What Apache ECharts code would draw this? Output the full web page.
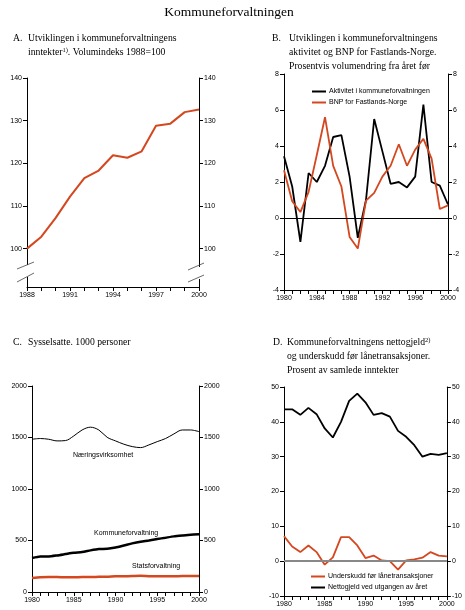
<!DOCTYPE html>
<html><head><meta charset="utf-8">
<script src="https://cdn.jsdelivr.net/npm/echarts@6/dist/echarts.min.js"></script>
<style>html,body{margin:0;padding:0;background:#fff}#c{width:465px;height:610px}</style>
</head><body><div id="c"></div>
<script>
// ---- data ----
const yearsA = ['1988','1989','1990','1991','1992','1993','1994','1995','1996','1997','1998','1999','2000'];
const incomeIndex = [100,102.8,107.2,112.2,116.5,118.3,121.9,121.3,122.8,128.8,129.3,132.0,132.6];

const years = ['1980','1981','1982','1983','1984','1985','1986','1987','1988','1989','1990','1991','1992','1993','1994','1995','1996','1997','1998','1999','2000'];
const activity = [3.43,1.75,-1.33,2.5,2.0,2.9,4.5,4.6,2.3,-1.1,1.0,5.5,3.7,1.9,2.0,1.7,2.3,6.3,2.0,1.8,0.75];
const gdpMainland = [2.65,0.93,0.33,1.45,3.5,5.6,2.9,1.75,-1.05,-1.7,0.96,1.4,2.3,2.9,4.1,2.9,3.8,4.4,3.3,0.5,0.7];

const business = [1483,1490,1483,1467,1470,1515,1573,1600,1573,1502,1467,1435,1412,1402,1428,1460,1490,1535,1573,1573,1557];
const municipal = [330,345,345,355,368,381,388,404,417,420,433,452,472,488,500,514,527,540,549,557,560];
const state = [135,143,145,145,143,143,145,145,147,148,152,153,155,157,153,152,153,153,155,155,155];

const netDebt = [43.6,43.6,42.0,44.0,42.2,38.1,35.5,40.0,46.0,48.1,45.6,42.0,42.5,41.5,37.4,35.7,33.3,30.0,30.8,30.5,31.0];
const deficit = [7.2,4.2,2.6,4.5,2.6,-1.0,1.1,6.9,6.9,4.5,0.9,1.6,0.2,0.0,-2.4,0.2,0.5,1.0,2.6,1.6,1.4];

const ticksA = [100,110,120,130,140];
const ticksB = [-4,-2,0,2,4,6,8];
const ticksC = [0,500,1000,1500,2000];
const ticksD = [-10,0,10,20,30,40,50];

// ---- style ----
const RED = '#d4471f';
const SANS = '"Liberation Sans", Arial, sans-serif';
const SERIF = '"Liberation Serif", "Times New Roman", serif';
const TS = 9.7;

function yAx(gridIndex, min, max, ticks, position) {
  return {
    type: 'value', gridIndex, min, max, position,
    axisLine: {show: true, onZero: false, lineStyle: {color: '#000', width: 1}},
    axisTick: {show: true, length: 4, customValues: ticks, lineStyle: {color: '#000', width: 1}},
    axisLabel: {fontSize: 7, color: '#000', margin: 5, fontFamily: SANS, customValues: ticks,
      formatter: v => String(v)},
    splitLine: {show: false}
  };
}
function xAx(gridIndex, data, labelInterval) {
  return {
    type: 'category', gridIndex, data, boundaryGap: false,
    axisLine: {show: true, onZero: false, lineStyle: {color: '#000', width: 1}},
    axisTick: {show: true, interval: 0, length: 4, lineStyle: {color: '#000', width: 1}},
    axisLabel: {interval: labelInterval, fontSize: 7, color: '#000', margin: 5, fontFamily: SANS,
      showMinLabel: true, showMaxLabel: true},
    splitLine: {show: false}
  };
}
function line(name, xi, yi, data, color, width, smooth) {
  return {type: 'line', name, xAxisIndex: xi, yAxisIndex: yi, data, symbol: 'none',
    smooth: smooth || false, lineStyle: {color, width}, itemStyle: {color}, z: 3};
}
function txt(x, y, text, size, font, extra) {
  return {type: 'text', x, y, z: 100, style: Object.assign({text, fontSize: size, fontFamily: font, fill: '#000', textVerticalAlign: 'middle'}, extra || {})};
}
function seg(x1, y1, x2, y2) {
  return {type: 'line', z: 100, shape: {x1, y1, x2, y2}, style: {stroke: '#444', lineWidth: 0.8}};
}
function supText(x, y, main, sup, after) {
  return {type: 'text', x, y, z: 100, style: {
    text: '{n|' + main + '}{s|' + sup + '}' + (after ? '{n|' + after + '}' : ''), textVerticalAlign: 'middle',
    rich: {n: {fontSize: TS, fontFamily: SERIF, fill: '#000', verticalAlign: 'bottom'},
           s: {fontSize: 6.5, fontFamily: SERIF, fill: '#000', verticalAlign: 'top'}}}};
}

const chart = echarts.init(document.getElementById('c'), null, {renderer: 'canvas'});
chart.setOption({
  animation: false,
  backgroundColor: '#fff',
  grid: [
    {left: 27, top: 78, width: 172, height: 209},
    {left: 284, top: 74, width: 164, height: 216},
    {left: 32, top: 386, width: 167, height: 206},
    {left: 284, top: 387, width: 164, height: 209}
  ],
  xAxis: [xAx(0, yearsA, 2), xAx(1, years, 3), xAx(2, years, 4), xAx(3, years, 4)],
  yAxis: [
    yAx(0, 91, 140, ticksA, 'left'), yAx(0, 91, 140, ticksA, 'right'),
    yAx(1, -4, 8, ticksB, 'left'), yAx(1, -4, 8, ticksB, 'right'),
    yAx(2, 0, 2000, ticksC, 'left'), yAx(2, 0, 2000, ticksC, 'right'),
    yAx(3, -10, 50, ticksD, 'left'), yAx(3, -10, 50, ticksD, 'right')
  ],
  legend: [
    {data: ['Aktivitet i kommuneforvaltningen', 'BNP for Fastlands-Norge'], orient: 'vertical',
      left: 307, top: 83, itemWidth: 14, itemHeight: 2, itemGap: 4, icon: 'rect',
      textStyle: {fontSize: 7, fontFamily: SANS, color: '#000', padding: [0,0,0,-2]}},
    {data: ['Underskudd før lånetransaksjoner', 'Nettogjeld ved utgangen av året'], orient: 'vertical',
      left: 306, top: 568, itemWidth: 14, itemHeight: 2, itemGap: 4, icon: 'rect',
      textStyle: {fontSize: 7, fontFamily: SANS, color: '#000', padding: [0,0,0,-2]}}
  ],
  series: [
    line('Inntekter', 0, 0, incomeIndex, RED, 2),
    Object.assign(line('Aktivitet i kommuneforvaltningen', 1, 2, activity, '#000', 1.8), {
      markLine: {silent: true, symbol: 'none', label: {show: false},
        lineStyle: {color: '#000', width: 1, type: 'solid'}, data: [{yAxis: 0}]}
    }),
    line('BNP for Fastlands-Norge', 1, 2, gdpMainland, RED, 1.8),
    line('Næringsvirksomhet', 2, 4, business, '#000', 1, 0.35),
    line('Kommuneforvaltning', 2, 4, municipal, '#000', 2.5, 0.2),
    line('Statsforvaltning', 2, 4, state, RED, 2.5, 0.2),
    Object.assign(line('Underskudd før lånetransaksjoner', 3, 6, deficit, RED, 1.8), {
      markLine: {silent: true, symbol: 'none', label: {show: false},
        lineStyle: {color: '#888', width: 2, type: 'solid'}, data: [{yAxis: 0}]}
    }),
    line('Nettogjeld ved utgangen av året', 3, 6, netDebt, '#000', 1.8)
  ],
  graphic: [
    txt(229, 12, 'Kommuneforvaltningen', 13.5, SERIF, {textAlign: 'center'}),
    // panel A
    txt(13, 38, 'A.', TS, SERIF),
    txt(28, 38, 'Utviklingen i kommuneforvaltningens', TS, SERIF),
    supText(28, 52, 'inntekter', '1)', '. Volumindeks 1988=100'),
    // panel B
    txt(272, 38, 'B.', TS, SERIF),
    txt(289, 38, 'Utviklingen i kommuneforvaltningens', TS, SERIF),
    txt(289, 52, 'aktivitet og BNP for Fastlands-Norge.', TS, SERIF),
    txt(289, 66, 'Prosentvis volumendring fra året før', TS, SERIF),
    // panel C
    txt(13, 342, 'C.', TS, SERIF),
    txt(28, 342, 'Sysselsatte. 1000 personer', TS, SERIF),
    txt(73, 455, 'Næringsvirksomhet', 7, SANS),
    txt(94, 533, 'Kommuneforvaltning', 7, SANS),
    txt(132, 566, 'Statsforvaltning', 7, SANS),
    // panel D
    txt(273, 342, 'D.', TS, SERIF),
    supText(287, 342, 'Kommuneforvaltningens nettogjeld', '2)'),
    txt(287, 356, 'og underskudd før lånetransaksjoner.', TS, SERIF),
    txt(287, 370, 'Prosent av samlede inntekter', TS, SERIF),
    // axis breaks in panel A
    {type: 'rect', z: 99, shape: {x: 24, y: 265, width: 6, height: 12}, style: {fill: '#fff'}},
    {type: 'rect', z: 99, shape: {x: 196, y: 267, width: 6, height: 12}, style: {fill: '#fff'}},
    seg(17, 269, 34, 262), seg(17, 282, 34, 273),
    seg(188, 270, 204, 263), seg(188, 282, 204, 275)
  ]
});
</script></body></html>
